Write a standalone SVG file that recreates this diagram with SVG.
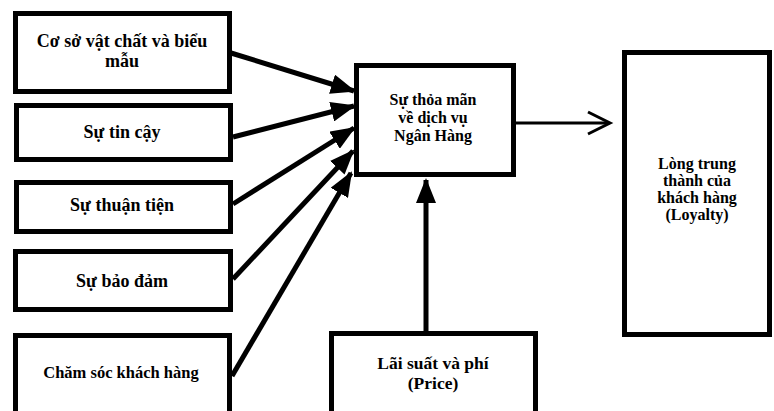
<svg xmlns="http://www.w3.org/2000/svg" width="774" height="411" viewBox="0 0 774 411">
<defs>
<style>
.box{fill:#fff;stroke:#000;stroke-width:5}
.t{font-family:"Liberation Serif","Times New Roman",serif;font-weight:bold;font-size:18px;text-anchor:middle;fill:#000}
.s{font-size:16px}
.c{stroke:#000;stroke-width:5;fill:none}
</style>
<marker id="ah" markerWidth="5" markerHeight="4" refX="4.6" refY="2" orient="auto" markerUnits="strokeWidth">
<path d="M0,0 L5,2 L0,4 Z" fill="#000"/>
</marker>
</defs>
<rect width="774" height="411" fill="#fff"/>
<g id="n1"><rect class="box" x="15.5" y="13.5" width="214" height="78"/>
<text class="t" x="122" y="47">Cơ sở vật chất và biểu</text><text class="t" x="122" y="67">mẫu</text></g>
<g id="n2"><rect class="box" x="16.5" y="105.5" width="214" height="54"/>
<text class="t" x="122" y="138">Sự tin cậy</text></g>
<g id="n3"><rect class="box" x="16.5" y="182.5" width="214" height="49"/>
<text class="t" x="122" y="211">Sự thuận tiện</text></g>
<g id="n4"><rect class="box" x="15.5" y="251.5" width="215" height="58"/>
<text class="t" x="122" y="287">Sự bảo đảm</text></g>
<g id="n5"><rect class="box" x="15.5" y="335.5" width="214" height="100"/>
<text class="t" x="121" y="378" style="font-size:16.5px">Chăm sóc khách hàng</text></g>
<g id="center"><rect class="box" x="356.5" y="65.5" width="157" height="109"/>
<text class="t s" x="433" y="105">Sự thỏa mãn</text><text class="t s" x="433" y="123">về dịch vụ</text><text class="t s" x="433" y="141">Ngân Hàng</text></g>
<g id="loyalty"><rect class="box" x="624.5" y="52.5" width="145" height="282"/>
<text class="t s" x="697" y="169">Lòng trung</text><text class="t s" x="697" y="186">thành của</text><text class="t s" x="697" y="203">khách hàng</text><text class="t s" x="697" y="220">(Loyalty)</text></g>
<g id="price"><rect class="box" x="331.5" y="333.5" width="204" height="100"/>
<text class="t" x="433" y="369" style="font-size:17.5px">Lãi suất và phí</text><text class="t" x="433" y="389" style="font-size:17.5px">(Price)</text></g>
<g id="connectors">
<line class="c" x1="231" y1="53" x2="354" y2="91" marker-end="url(#ah)"/>
<line class="c" x1="233" y1="137" x2="354" y2="106" marker-end="url(#ah)"/>
<line class="c" x1="233" y1="204" x2="354" y2="128" marker-end="url(#ah)"/>
<line class="c" x1="233" y1="279" x2="353" y2="151" marker-end="url(#ah)"/>
<line class="c" x1="232" y1="376" x2="351" y2="173" marker-end="url(#ah)"/>
<line class="c" x1="426" y1="331" x2="426" y2="180" marker-end="url(#ah)"/>
<line x1="516" y1="123" x2="609" y2="123" stroke="#000" stroke-width="3"/>
<polyline points="588,112 610,123 588,134" fill="none" stroke="#000" stroke-width="3"/>
</g>
</svg>
